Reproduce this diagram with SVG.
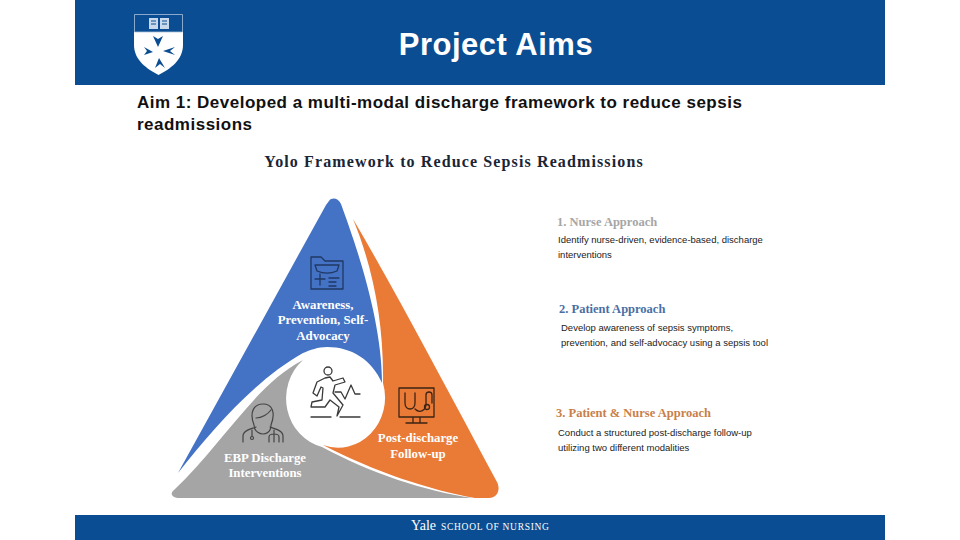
<svg xmlns="http://www.w3.org/2000/svg" width="960" height="540" viewBox="0 0 960 540">
<style>
.s{font-family:"Liberation Serif","Times New Roman",serif;font-weight:bold}
.a{font-family:"Liberation Sans",Arial,sans-serif}
.t{font-size:12.8px;fill:#fff;text-anchor:middle}
.h{font-size:12.5px}
.b{font-size:9.5px;fill:#222}
.i{fill:none;stroke:#1f3864;stroke-width:1.3;stroke-linecap:round;stroke-linejoin:round}
.r{fill:none;stroke:#3a3a3a;stroke-width:1.3;stroke-linecap:round;stroke-linejoin:round}
.d{fill:none;stroke:#444;stroke-width:1.2;stroke-linecap:round;stroke-linejoin:round}
.o{fill:none;stroke:#3d2415;stroke-width:1.3;stroke-linecap:round;stroke-linejoin:round}
</style>
<rect width="960" height="540" fill="#fff"/>
<g id="header">
<rect x="75" width="810" height="85" fill="#0b4d92"/>
<path d="M134 32H183V45C183 60 170 69 158.500 75C147 69 134 60 134 45Z" fill="#fff"/>
<path d="M134.500 14.500H182.500V32H134.500Z" fill="#0b4d92" stroke="#a9c1dc" stroke-width=".8"/>
<path d="M149 18H158V29H149ZM160 18H169V29H160Z" fill="#c9d8ea"/>
<path d="M151 21H156M151 24H156M162 21H167M162 24H167" stroke="#0b4d92" stroke-width="1"/>
<path d="M158 47L153 36L158 39L163 36ZM153 52L144 47L147 51L144 55ZM163 51L175 47L170 51L175 55ZM159 58L155 68L160 64L165 68Z" fill="#0b4d92"/>
<text x="496" y="55" text-anchor="middle" class="a" font-size="31" font-weight="bold" fill="#fff" letter-spacing=".5">Project Aims</text>
</g>
<g id="aim">
<text class="a" font-size="17" font-weight="bold" fill="#111" letter-spacing=".49"><tspan x="137" y="108">Aim 1: Developed a multi-modal discharge framework to reduce sepsis</tspan><tspan x="137" y="130">readmissions</tspan></text>
</g>
<text x="454" y="167" text-anchor="middle" class="s" font-size="16" fill="#1a2535" letter-spacing="1.12">Yolo Framework to Reduce Sepsis Readmissions</text>
<g id="node-blue">
<path d="M329 201C332 197 338 198 341 204C356 245 382 320 382 383C372 360 352 347 327 347C318 347 310 350 303 353C255 380 212 430 178 473L326 205Z" fill="#4472c4"/>
<path class="i" d="M311 261V289H343V261H325L321 257H311V261M315 265H339L337 271C330 274 324 274 317 271ZM315 279H325M320 274V285M329 278H339M329 282H336M329 286H336"/>
<text class="s t"><tspan x="323" y="309">Awareness,</tspan><tspan x="323" y="324">Prevention, Self-</tspan><tspan x="323" y="340">Advocacy</tspan></text>
</g>
<g id="node-orange">
<path d="M353 219C392 285 445 385 497 482C501 490 497 498 489 498H475C430 490 375 472 323 445A47 50 0 0 0 383 383C384 320 372 265 353 219Z" fill="#e97b37"/>
<path class="o" d="M399 388H434V417H399ZM413 417V423M420 417V423M406 423H427M405 393V403C405 411 415 411 415 403V393M415 409C420 414 426 410 426 404V395C426 391 432 391 432 395V403"/>
<circle class="o" cx="427" cy="407" r="2.500"/>
<text class="s t"><tspan x="418" y="442">Post-discharge</tspan><tspan x="418" y="458">Follow-up</tspan></text>
</g>
<g id="node-gray">
<path d="M173 491C226 440 255 385 303 360A47 50 0 0 0 322 447C370 473 425 491 472 498H180C172 498 170 494 173 491Z" fill="#a5a5a5"/>
<path class="d" d="M254 425C249 412 254 404 263 404C272 404 276 412 271 425M256 418C262 418 268 414 271 410M254 425C254 433 262 434 263 434C265 434 271 433 271 425M243 442V436C243 431 250 429 256 427M283 442V436C283 431 276 429 270 427M252 430V436M274 430V442M269 442V437C269 433 279 433 279 437V442"/>
<circle class="d" cx="252" cy="438" r="1.500"/>
<text class="s t"><tspan x="265" y="462">EBP Discharge</tspan><tspan x="265" y="477">Interventions</tspan></text>
</g>
<g id="node-center">
<circle class="r" cx="328" cy="371" r="4"/>
<path class="r" d="M325 378L317 382L313 393L317 396L321 387L323 388L322 400L312 402L311 407L325 407L330 400L339 407L337 416L343 405L333 393L335 385L345 382L343 378L333 381L330 377Z"/>
<path class="r" d="M335 392H341L345 399L351 385L355 394H360M311 417H331M340 417H360"/>
</g>
<g id="legend-1">
<text x="557" y="226" class="s h" fill="#a6a6a6">1. Nurse Approach</text>
<text class="a b"><tspan x="558" y="243">Identify nurse-driven, evidence-based, discharge</tspan><tspan x="558" y="258">interventions</tspan></text>
</g>
<g id="legend-2">
<text x="559" y="313" class="s h" fill="#4a6fa5">2. Patient Approach</text>
<text class="a b"><tspan x="561" y="331">Develop awareness of sepsis symptoms,</tspan><tspan x="561" y="346">prevention, and self-advocacy using a sepsis tool</tspan></text>
</g>
<g id="legend-3">
<text x="556" y="417" class="s h" fill="#c97f4a">3. Patient &amp; Nurse Approach</text>
<text class="a b"><tspan x="558" y="436">Conduct a structured post-discharge follow-up</tspan><tspan x="558" y="451">utilizing two different modalities</tspan></text>
</g>
<g id="footer">
<rect x="75" y="515" width="810" height="25" fill="#0b4d92"/>
<text x="411" y="530" font-family="Liberation Serif,serif" font-size="14" fill="#fff">Yale</text>
<text x="441" y="530" font-family="Liberation Serif,serif" font-size="9.500" fill="#fff" letter-spacing=".7">SCHOOL OF NURSING</text>
</g>
</svg>
